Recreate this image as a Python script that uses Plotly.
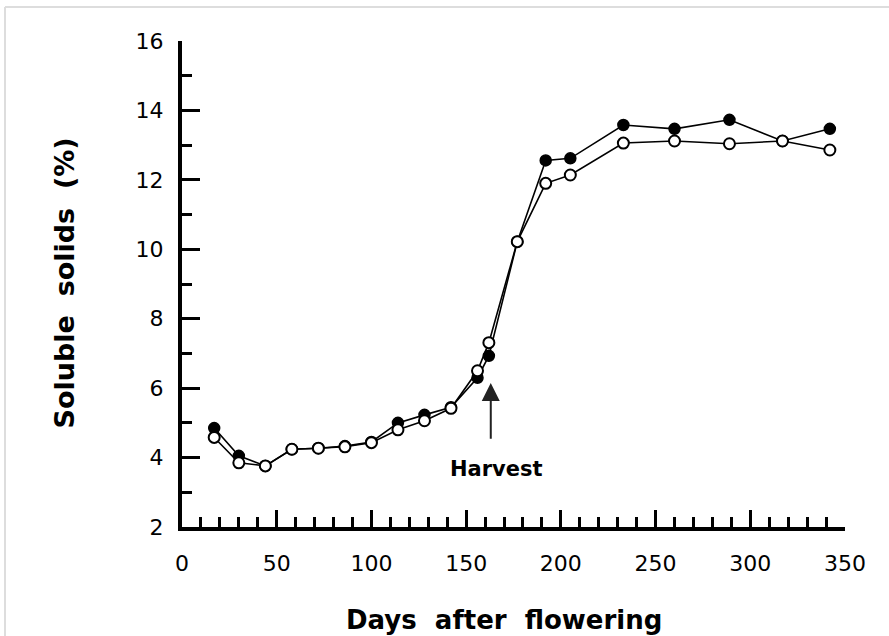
import plotly.graph_objects as go

days = [17, 30, 44, 58, 72, 86, 100, 114, 128, 142, 156, 162, 177, 192, 205, 233, 260, 289, 317, 342]
filled = [4.85, 4.05, 3.76, 4.24, 4.27, 4.33, 4.45, 5.0, 5.23, 5.45, 6.3, 6.93, 10.22, 12.56, 12.62, 13.58, 13.47, 13.73, 13.12, 13.47]
open_ = [4.58, 3.85, 3.76, 4.24, 4.27, 4.31, 4.43, 4.8, 5.06, 5.42, 6.5, 7.31, 10.22, 11.9, 12.14, 13.06, 13.12, 13.04, 13.12, 12.86]

harvest_day = 163
x_ticks = [0, 50, 100, 150, 200, 250, 300, 350]
y_ticks = [2, 4, 6, 8, 10, 12, 14, 16]
x_title = "Days\u00a0 after\u00a0 flowering"
y_title = "Soluble\u00a0 solids\u00a0 (%)"

FONT = "DejaVu Sans"

fig = go.Figure()
fig.add_trace(go.Scatter(
    x=days, y=filled, mode="lines+markers",
    line=dict(color="black", width=1.6),
    marker=dict(symbol="circle", size=11, color="black", line=dict(color="black", width=1.5)),
    showlegend=False,
))
fig.add_trace(go.Scatter(
    x=days, y=open_, mode="lines+markers",
    line=dict(color="black", width=1.6),
    marker=dict(symbol="circle", size=11, color="white", line=dict(color="black", width=2)),
    showlegend=False,
))

fig.add_annotation(
    x=harvest_day, y=6.15, ax=harvest_day, ay=4.5,
    xref="x", yref="y", axref="x", ayref="y",
    text="", showarrow=True, arrowhead=2, arrowsize=1.8, arrowwidth=2,
    arrowcolor="#222222",
)
fig.add_annotation(
    x=166, y=3.67, xref="x", yref="y", text="<b>Harvest</b>", showarrow=False,
    font=dict(family=FONT, size=21, color="black"),
)

# axis titles
fig.add_annotation(
    x=0.486, y=-0.191, xref="paper", yref="paper", text="<b>" + x_title + "</b>",
    showarrow=False, xanchor="center", yanchor="middle",
    font=dict(family=FONT, size=26, color="black"),
)
fig.add_annotation(
    x=-0.1765, y=0.503, xref="paper", yref="paper", text="<b>" + y_title + "</b>",
    showarrow=False, xanchor="center", yanchor="middle", textangle=-90,
    font=dict(family=FONT, size=27, color="black"),
)

# light scan frame
fig.add_shape(type="line", xref="paper", yref="paper", x0=-0.267, x1=1.2, y0=1.07, y1=1.07,
              line=dict(color="#dddddd", width=2))
fig.add_shape(type="line", xref="paper", yref="paper", x0=-0.267, x1=-0.267, y0=1.07, y1=-0.3,
              line=dict(color="#dddddd", width=2))

fig.update_layout(
    width=889, height=636,
    margin=dict(l=182, r=44, t=41, b=109),
    paper_bgcolor="white", plot_bgcolor="white",
    font=dict(family=FONT, color="black"),
)
fig.update_xaxes(
    range=[0, 350], showgrid=False, zeroline=False, automargin=False,
    showline=True, linecolor="black", linewidth=4,
    tickmode="array", tickvals=x_ticks, ticktext=[str(v) for v in x_ticks],
    ticks="inside", ticklen=17, tickwidth=3, tickcolor="black",
    minor=dict(dtick=10, tick0=0, ticks="inside", ticklen=10, tickwidth=3, tickcolor="black", showgrid=False),
    tickfont=dict(family=FONT, size=22, color="black"),
    ticklabelstandoff=14,
)
fig.update_yaxes(
    range=[2, 16], showgrid=False, zeroline=False, automargin=False,
    showline=True, linecolor="black", linewidth=4,
    tickmode="array", tickvals=y_ticks, ticktext=[str(v) for v in y_ticks],
    ticks="inside", ticklen=18, tickwidth=3, tickcolor="black",
    minor=dict(dtick=1, tick0=0, ticks="inside", ticklen=10, tickwidth=3, tickcolor="black", showgrid=False),
    tickfont=dict(family=FONT, size=22, color="black"),
    ticklabelstandoff=10,
)

fig.write_html("out.html")
